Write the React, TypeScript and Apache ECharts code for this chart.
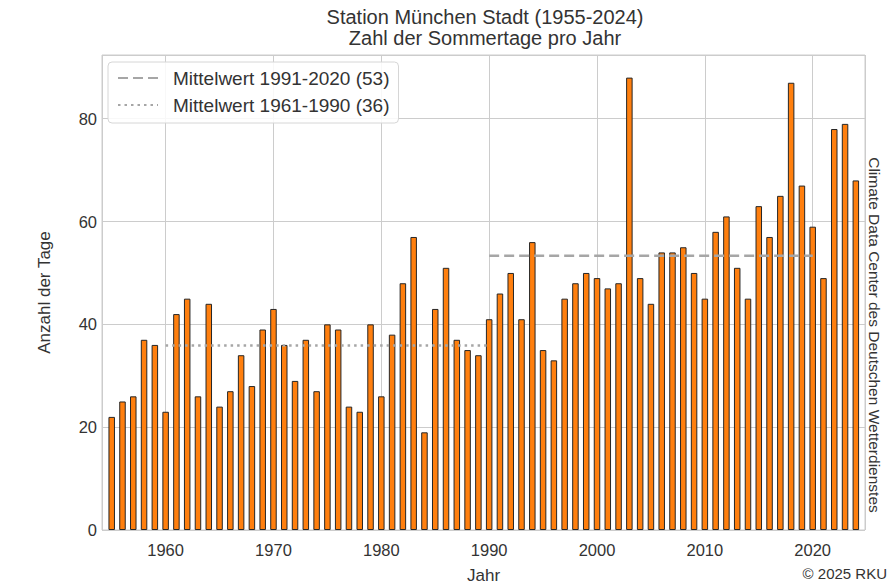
import React, { useEffect, useRef } from "react";
import * as echarts from "echarts";

const years: number[] = [];
for (let y = 1955; y <= 2024; y++) years.push(y);

const summerDays: number[] = [
  22, 25, 26, 37, 36, 23, 42, 45, 26, 44,
  24, 27, 34, 28, 39, 43, 36, 29, 37, 27,
  40, 39, 24, 23, 40, 26, 38, 48, 57, 19,
  43, 51, 37, 35, 34, 41, 46, 50, 41, 56,
  35, 33, 45, 48, 50, 49, 47, 48, 88, 49,
  44, 54, 54, 55, 50, 45, 58, 61, 51, 45,
  63, 57, 65, 87, 67, 59, 49, 78, 79, 68,
];

const mean9120 = 53.33;
const mean6190 = 35.87;
const mean9120Span = [1990, 2020];
const mean6190Span = [1960, 1990];
const legendLabels = ["Mittelwert 1991-2020 (53)", "Mittelwert 1961-1990 (36)"];
const yTicks = [0, 20, 40, 60, 80];

const FONT = "'Liberation Sans', Arial, sans-serif";
const TXT = "#333333";

export default function App() {
  const ref = useRef<HTMLDivElement>(null);
  useEffect(() => {
    document.body.style.margin = "0";
    const chart = echarts.init(ref.current!, undefined, { renderer: "svg" });
    const option: any = {
      animation: false,
      backgroundColor: "#ffffff",
      textStyle: { fontFamily: FONT },
      grid: {
        left: 102,
        right: 26,
        top: 55,
        bottom: 57,
        show: true,
        borderColor: "#cccccc",
        borderWidth: 1,
        containLabel: false,
        outerBoundsMode: "none",
      },
      legend: {
        orient: "vertical",
        left: 108,
        top: 62,
        itemWidth: 40,
        itemHeight: 14,
        itemGap: 7,
        padding: [6, 9, 8, 9],
        backgroundColor: "rgba(255,255,255,0.85)",
        borderColor: "#d6d6d6",
        borderWidth: 1,
        borderRadius: 4,
        itemStyle: { opacity: 0 },
        textStyle: {
          fontSize: 19,
          lineHeight: 20,
          color: TXT,
          fontFamily: FONT,
          padding: [0, 0, 0, 10],
        },
        data: legendLabels,
      },
      xAxis: {
        type: "value",
        min: 1954.1,
        max: 2024.85,
        splitNumber: 7,
        name: "Jahr",
        nameLocation: "middle",
        nameGap: 37,
        nameTextStyle: { fontSize: 17, color: TXT, fontFamily: FONT },
        axisLine: { show: false },
        axisTick: { show: false },
        axisLabel: {
          fontSize: 16.5,
          color: TXT,
          margin: 11,
          showMinLabel: false,
          showMaxLabel: false,
          formatter: (v: number) => (Math.abs(v % 10) < 1e-6 ? String(v) : ""),
        },
        splitLine: { show: true, lineStyle: { color: "#cccccc", width: 1 } },
      },
      yAxis: {
        type: "value",
        min: 0,
        max: 92.4,
        interval: 20,
        name: "Anzahl der Tage",
        nameLocation: "middle",
        nameGap: 49,
        nameTextStyle: { fontSize: 17, color: TXT, fontFamily: FONT },
        axisLine: { show: false },
        axisTick: { show: false },
        axisLabel: {
          fontSize: 16.5,
          color: TXT,
          margin: 5,
          formatter: (v: number) => (yTicks.includes(v) ? String(v) : ""),
        },
        splitLine: { show: true, lineStyle: { color: "#cccccc", width: 1 } },
      },
      series: [
        {
          type: "bar",
          name: "Sommertage",
          data: years.map((y, i) => [y, summerDays[i]]),
          barWidth: 6.5,
          itemStyle: { color: "#ff7f0e", borderColor: "#262626", borderWidth: 1 },
          z: 2,
        },
        {
          type: "line",
          name: legendLabels[0],
          data: mean9120Span.map((x) => [x, mean9120]),
          symbol: "none",
          lineStyle: { color: "#a6a6a6", width: 2.5, type: [10, 5] },
          itemStyle: { color: "#a6a6a6" },
          z: 5,
        },
        {
          type: "line",
          name: legendLabels[1],
          data: mean6190Span.map((x) => [x, mean6190]),
          symbol: "none",
          lineStyle: { color: "#a6a6a6", width: 2.5, type: [2.5, 4] },
          itemStyle: { color: "#a6a6a6" },
          z: 5,
        },
      ],
      graphic: [
        {
          type: "text",
          x: 485,
          y: 6,
          style: {
            text: "Station München Stadt (1955-2024)\nZahl der Sommertage pro Jahr",
            align: "center",
            verticalAlign: "top",
            fontSize: 20,
            lineHeight: 21,
            fill: TXT,
            fontFamily: FONT,
          },
        },
        {
          type: "text",
          x: 874,
          y: 335,
          rotation: -Math.PI / 2,
          style: {
            text: "Climate Data Center des Deutschen Wetterdienstes",
            align: "center",
            verticalAlign: "middle",
            fontSize: 15.5,
            fill: TXT,
            fontFamily: FONT,
          },
        },
        {
          type: "text",
          right: 4,
          bottom: 6,
          style: {
            text: "© 2025 RKU",
            fontSize: 15,
            fill: TXT,
            fontFamily: FONT,
          },
        },
      ],
    };
    chart.setOption(option);
    return () => chart.dispose();
  }, []);
  return <div ref={ref} style={{ width: 891, height: 587 }} />;
}
